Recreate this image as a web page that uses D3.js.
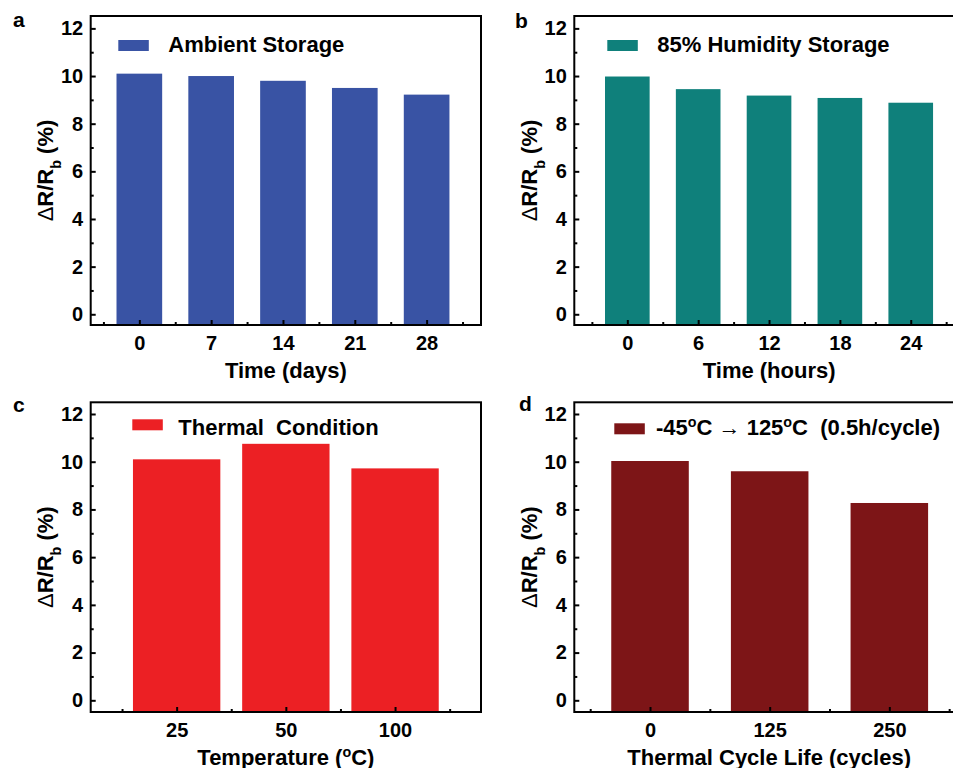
<!DOCTYPE html>
<html>
<head>
<meta charset="utf-8">
<script src="https://cdn.jsdelivr.net/npm/d3@7"></script>
<style>
  body { margin: 0; background: #fff; }
  svg { display: block; font-family: "Liberation Sans", Arial, sans-serif; }
  text { white-space: pre; }
</style>
</head>
<body>
<svg id="chart" width="953" height="768"></svg>
<script>
// ---- data ----
const yTicks = [0, 2, 4, 6, 8, 10, 12];
const yMinor = [1, 3, 5, 7, 9, 11];

const dayTicks = [0, 7, 14, 21, 28];
const ambientValues = [10.1, 10.0, 9.8, 9.5, 9.22];

const hourTicks = [0, 6, 12, 18, 24];
const humidityValues = [9.98, 9.45, 9.18, 9.08, 8.88];

const tempLabels = ["25", "50", "100"];
const thermalValues = [10.1, 10.75, 9.72];

const cycleTicks = [0, 125, 250];
const cycleValues = [10.03, 9.6, 8.27];

// ---- layout for each panel ----
const svg = d3.select("#chart");

const panels = [
    {
        letter: "a", lx: 13, ly: 27,
        frame: {x0: 90.7, x1: 481, y0: 16, y1: 325},
        xDomain: [-4.74, 33.3], yDomain: [-0.45, 12.52],
        pos: dayTicks, labels: dayTicks.map(String), values: ambientValues,
        barW: 4.45, minor: d3.range(-3.5, 33, 7),
        color: "#3953a4",
        legend: {sx: 27.6, sy: 24, tx: 77.6, ty: 35.7, text: [{t: "Ambient Storage"}]},
        xTitle: [{t: "Time (days)"}]
    },
    {
        letter: "b", lx: 515, ly: 28,
        frame: {x0: 574.3, x1: 964, y0: 16, y1: 325},
        xDomain: [-4.49, 28.51], yDomain: [-0.45, 12.52],
        pos: hourTicks, labels: hourTicks.map(String), values: humidityValues,
        barW: 3.78, minor: d3.range(-3, 28, 6),
        color: "#0f807b",
        legend: {sx: 33, sy: 24, tx: 83, ty: 35.7, text: [{t: "85% Humidity Storage"}]},
        xTitle: [{t: "Time (hours)"}]
    },
    {
        letter: "c", lx: 13, ly: 411.7,
        frame: {x0: 90.7, x1: 481, y0: 402.3, y1: 712},
        xDomain: [0.213, 3.787], yDomain: [-0.49, 12.49],
        pos: [1, 2, 3], labels: tempLabels, values: thermalValues,
        barW: 0.8, minor: [0.5, 1.5, 2.5, 3.5],
        color: "#ec2024",
        legend: {sx: 41.6, sy: 17, tx: 87.6, ty: 32.7, text: [{t: "Thermal  Condition"}]},
        xTitle: [{t: "Temperature ("}, {t: "o", sup: true}, {t: "C)"}]
    },
    {
        letter: "d", lx: 519, ly: 410.5,
        frame: {x0: 574.3, x1: 964, y0: 402.3, y1: 712},
        xDomain: [-79.1, 328], yDomain: [-0.49, 12.49],
        pos: cycleTicks, labels: cycleTicks.map(String), values: cycleValues,
        barW: 81, minor: [-62.5, 62.5, 187.5, 312.5],
        color: "#7d1517",
        legend: {sx: 40, sy: 21, tx: 81.7, ty: 32.7, text: [
            {t: "-45"}, {t: "o", sup: true}, {t: "C "}, {t: "\u2192", thin: true},
            {t: " 125"}, {t: "o", sup: true}, {t: "C  (0.5h/cycle)"}
        ]},
        xTitle: [{t: "Thermal Cycle Life (cycles)"}]
    }
];

// write a list of text pieces (with superscripts) into a text element
function addPieces(textSel, pieces) {
    pieces.forEach(p => {
        let ts = textSel.append("tspan").text(p.t);
        if (p.sup) ts.attr("baseline-shift", "super").attr("font-size", "0.65em");
        if (p.thin) ts.attr("font-weight", "normal");
    });
}

function drawPanel(p) {
    const f = p.frame;
    const x = d3.scaleLinear().domain(p.xDomain).range([f.x0, f.x1]);
    const y = d3.scaleLinear().domain(p.yDomain).range([f.y1, f.y0]);
    const g = svg.append("g");
    const bw = x(p.barW) - x(0);

    // bars, from the bottom of the frame
    g.selectAll("rect.bar")
        .data(p.values)
        .enter()
        .append("rect")
        .attr("class", "bar")
        .attr("x", (d, i) => x(p.pos[i]) - bw / 2)
        .attr("y", d => y(d))
        .attr("width", bw)
        .attr("height", d => f.y1 - y(d))
        .attr("fill", p.color);

    // y axis, ticks point inward
    const yAxis = g.append("g")
        .attr("transform", `translate(${f.x0},0)`)
        .call(d3.axisLeft(y).tickValues(yTicks).tickSizeInner(-5).tickSizeOuter(0).tickPadding(7.5));
    g.append("g")
        .attr("transform", `translate(${f.x0},0)`)
        .call(d3.axisLeft(y).tickValues(yMinor).tickSizeInner(-3).tickSizeOuter(0).tickFormat(""));

    // x axis
    const xAxis = g.append("g")
        .attr("transform", `translate(0,${f.y1})`)
        .call(d3.axisBottom(x).tickValues(p.pos).tickFormat((d, i) => p.labels[i])
            .tickSizeInner(-5).tickSizeOuter(0).tickPadding(10.5));
    g.append("g")
        .attr("transform", `translate(0,${f.y1})`)
        .call(d3.axisBottom(x).tickValues(p.minor).tickSizeInner(-3).tickSizeOuter(0).tickFormat(""));

    g.selectAll(".domain").remove();
    g.selectAll(".tick line").attr("stroke", "#000").attr("stroke-width", 2);
    g.selectAll(".tick text")
        .attr("font-family", "Liberation Sans, Arial, sans-serif")
        .attr("font-size", 20)
        .attr("font-weight", "bold")
        .attr("fill", "#000");

    // frame
    g.append("rect")
        .attr("x", f.x0).attr("y", f.y0)
        .attr("width", f.x1 - f.x0).attr("height", f.y1 - f.y0)
        .attr("fill", "none").attr("stroke", "#000").attr("stroke-width", 2);

    // legend
    g.append("rect")
        .attr("x", f.x0 + p.legend.sx).attr("y", f.y0 + p.legend.sy)
        .attr("width", 30.5).attr("height", 11)
        .attr("fill", p.color);
    const lt = g.append("text")
        .attr("x", f.x0 + p.legend.tx).attr("y", f.y0 + p.legend.ty)
        .attr("font-size", 22).attr("font-weight", "bold");
    addPieces(lt, p.legend.text);

    // axis titles
    const xt = g.append("text")
        .attr("x", (f.x0 + Math.min(f.x1, 481 + f.x0 - 90.7)) / 2)
        .attr("y", f.y1 + 52.5)
        .attr("text-anchor", "middle")
        .attr("font-size", 22).attr("font-weight", "bold");
    addPieces(xt, p.xTitle);

    const yt = g.append("text")
        .attr("transform", `translate(${f.x0 - 37.5},${(f.y0 + f.y1) / 2}) rotate(-90)`)
        .attr("text-anchor", "middle")
        .attr("font-size", 22).attr("font-weight", "bold");
    yt.append("tspan").attr("font-weight", "normal").text("\u0394");
    yt.append("tspan").text("R/R");
    yt.append("tspan").attr("baseline-shift", "sub").attr("font-size", "0.65em").text("b");
    yt.append("tspan").text(" (%)");

    // panel letter
    svg.append("text")
        .attr("x", p.lx).attr("y", p.ly)
        .attr("font-size", 21).attr("font-weight", "bold")
        .text(p.letter);
}

panels.forEach(drawPanel);
</script>
</body>
</html>
